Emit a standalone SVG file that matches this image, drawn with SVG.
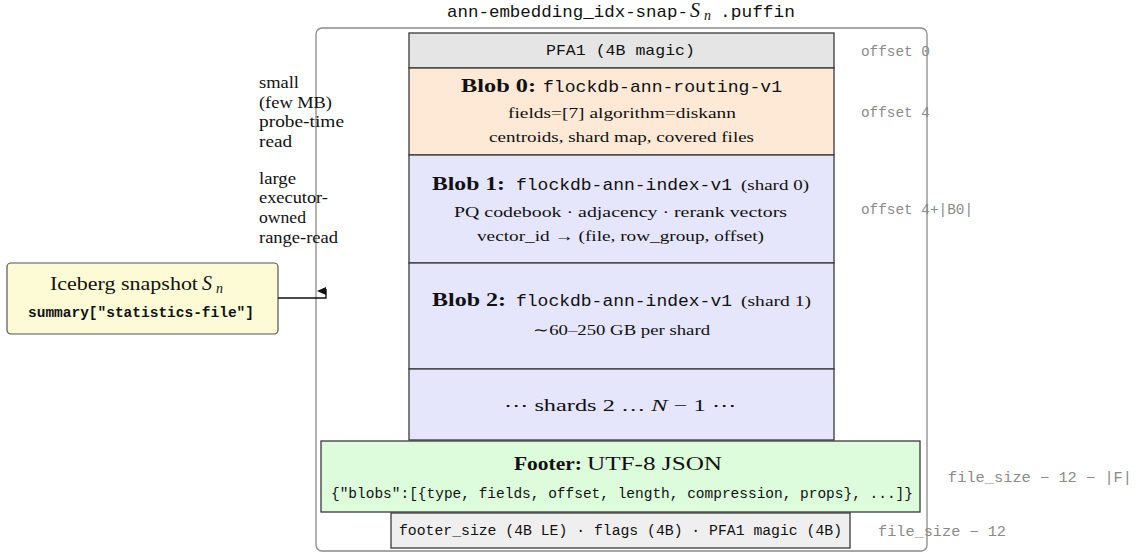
<svg xmlns="http://www.w3.org/2000/svg" width="1139" height="556" viewBox="0 0 1139 556">
<style>
.seg{stroke:#3a3a3a;stroke-width:1.3}
.ser{font-family:"Liberation Serif",serif;fill:#111}
.bold{font-weight:bold}
.mono{font-family:"Liberation Mono",monospace;fill:#111}
.it{font-style:italic}
.gray{font-family:"Liberation Mono",monospace;fill:#8a8a8a;font-size:14px}
.note{font-family:"Liberation Serif",serif;fill:#111;font-size:16px}
</style>
<rect width="1139" height="556" fill="#ffffff"/>
<g id="title">
<text class="mono" x="447" y="17" font-size="17" textLength="241" lengthAdjust="spacingAndGlyphs">ann-embedding_idx-snap-</text>
<text class="ser it" x="690" y="17" font-size="20">S</text>
<text class="ser it" x="704" y="20" font-size="14">n</text>
<text class="mono" x="720" y="17" font-size="17" textLength="75" lengthAdjust="spacingAndGlyphs">.puffin</text>
</g>
<g id="outer">
<rect x="316" y="28" width="611" height="523" rx="6" fill="none" stroke="#8a8a8a" stroke-width="1.3"/>
</g>
<g id="pfa1">
<rect class="seg" x="409" y="33" width="425" height="35" fill="#e5e5e5"/>
<text class="mono" x="546" y="55" font-size="15" textLength="149" lengthAdjust="spacingAndGlyphs">PFA1 (4B magic)</text>
</g>
<g id="blob0">
<rect class="seg" x="409" y="68" width="425" height="87" fill="#fde9d5"/>
<text class="ser bold" x="461" y="92" font-size="18" textLength="75" lengthAdjust="spacingAndGlyphs">Blob 0:</text>
<text class="mono" x="543" y="92" font-size="17" textLength="239" lengthAdjust="spacingAndGlyphs">flockdb-ann-routing-v1</text>
<text class="ser" x="508" y="118" font-size="15" textLength="228" lengthAdjust="spacingAndGlyphs">fields=[7]  algorithm=diskann</text>
<text class="ser" x="489" y="142" font-size="15" textLength="265" lengthAdjust="spacingAndGlyphs">centroids, shard map, covered files</text>
</g>
<g id="blob1">
<rect class="seg" x="409" y="155" width="425" height="108" fill="#e5e5fb"/>
<text class="ser bold" x="432" y="190" font-size="18" textLength="73" lengthAdjust="spacingAndGlyphs">Blob 1:</text>
<text class="mono" x="516" y="190" font-size="17" textLength="216" lengthAdjust="spacingAndGlyphs">flockdb-ann-index-v1</text>
<text class="ser" x="741" y="190" font-size="14" textLength="68" lengthAdjust="spacingAndGlyphs">(shard 0)</text>
<text class="ser" x="454" y="217" font-size="15" textLength="333" lengthAdjust="spacingAndGlyphs">PQ codebook · adjacency · rerank vectors</text>
<text class="ser" x="477" y="241" font-size="15" textLength="287" lengthAdjust="spacingAndGlyphs">vector_id → (file, row_group, offset)</text>
</g>
<g id="blob2">
<rect class="seg" x="409" y="263" width="425" height="106" fill="#e5e5fb"/>
<text class="ser bold" x="432" y="306" font-size="18" textLength="74" lengthAdjust="spacingAndGlyphs">Blob 2:</text>
<text class="mono" x="516" y="306" font-size="17" textLength="216" lengthAdjust="spacingAndGlyphs">flockdb-ann-index-v1</text>
<text class="ser" x="741" y="306" font-size="14" textLength="70" lengthAdjust="spacingAndGlyphs">(shard 1)</text>
<text class="ser" x="533" y="335" font-size="15" textLength="177" lengthAdjust="spacingAndGlyphs">∼60–250 GB per shard</text>
</g>
<g id="shards">
<rect class="seg" x="409" y="369" width="425" height="71" fill="#e5e5fb"/>
<text class="ser" x="504" y="411" font-size="17" textLength="232" lengthAdjust="spacingAndGlyphs">⋯ shards 2 … <tspan class="it">N</tspan> − 1 ⋯</text>
</g>
<g id="footer">
<rect class="seg" x="321" y="441" width="599" height="71" fill="#dcfcdc"/>
<text class="ser bold" x="514" y="470" font-size="18" textLength="68" lengthAdjust="spacingAndGlyphs">Footer:</text>
<text class="ser" x="587" y="470" font-size="18" textLength="135" lengthAdjust="spacingAndGlyphs">UTF-8 JSON</text>
<text class="mono" x="331" y="498" font-size="14" textLength="582" lengthAdjust="spacingAndGlyphs">{"blobs":[{type, fields, offset, length, compression, props}, ...]}</text>
</g>
<g id="trailer">
<rect class="seg" x="391" y="513" width="459" height="35" fill="#efefef"/>
<text class="mono" x="399" y="535" font-size="14" textLength="443" lengthAdjust="spacingAndGlyphs">footer_size (4B LE) · flags (4B) · PFA1 magic (4B)</text>
</g>
<g id="offsets">
<text class="gray" x="861" y="56" textLength="69" lengthAdjust="spacingAndGlyphs">offset 0</text>
<text class="gray" x="861" y="117" textLength="69" lengthAdjust="spacingAndGlyphs">offset 4</text>
<text class="gray" x="861" y="214" textLength="112" lengthAdjust="spacingAndGlyphs">offset 4+|B0|</text>
<text class="gray" x="948" y="482" textLength="184" lengthAdjust="spacingAndGlyphs">file_size − 12 − |F|</text>
<text class="gray" x="878" y="536" textLength="128" lengthAdjust="spacingAndGlyphs">file_size − 12</text>
</g>
<g id="notes">
<text class="note" x="259" y="88" textLength="40" lengthAdjust="spacingAndGlyphs">small</text>
<text class="note" x="259" y="108" textLength="73" lengthAdjust="spacingAndGlyphs">(few MB)</text>
<text class="note" x="259" y="127" textLength="85" lengthAdjust="spacingAndGlyphs">probe-time</text>
<text class="note" x="259" y="147" textLength="33" lengthAdjust="spacingAndGlyphs">read</text>
<text class="note" x="259" y="184" textLength="37" lengthAdjust="spacingAndGlyphs">large</text>
<text class="note" x="259" y="203" textLength="69" lengthAdjust="spacingAndGlyphs">executor-</text>
<text class="note" x="259" y="223" textLength="47" lengthAdjust="spacingAndGlyphs">owned</text>
<text class="note" x="259" y="243" textLength="79" lengthAdjust="spacingAndGlyphs">range-read</text>
</g>
<g id="iceberg">
<rect x="7" y="263" width="271" height="71" rx="4" fill="#fdfbd6" stroke="#555555" stroke-width="1.2"/>
<text class="ser" x="50" y="290" font-size="19" textLength="148" lengthAdjust="spacingAndGlyphs">Iceberg snapshot</text>
<text class="ser it" x="202" y="290" font-size="20">S</text>
<text class="ser it" x="216" y="293" font-size="14">n</text>
<text class="mono bold" x="28" y="317" font-size="14" textLength="226" lengthAdjust="spacingAndGlyphs">summary["statistics-file"]</text>
</g>
<g id="connectors">
<path d="M278,298 H326 V289" fill="none" stroke="#111" stroke-width="1.4"/>
<polygon points="317,291 326,287 326,295" fill="#111"/>
</g>
</svg>
